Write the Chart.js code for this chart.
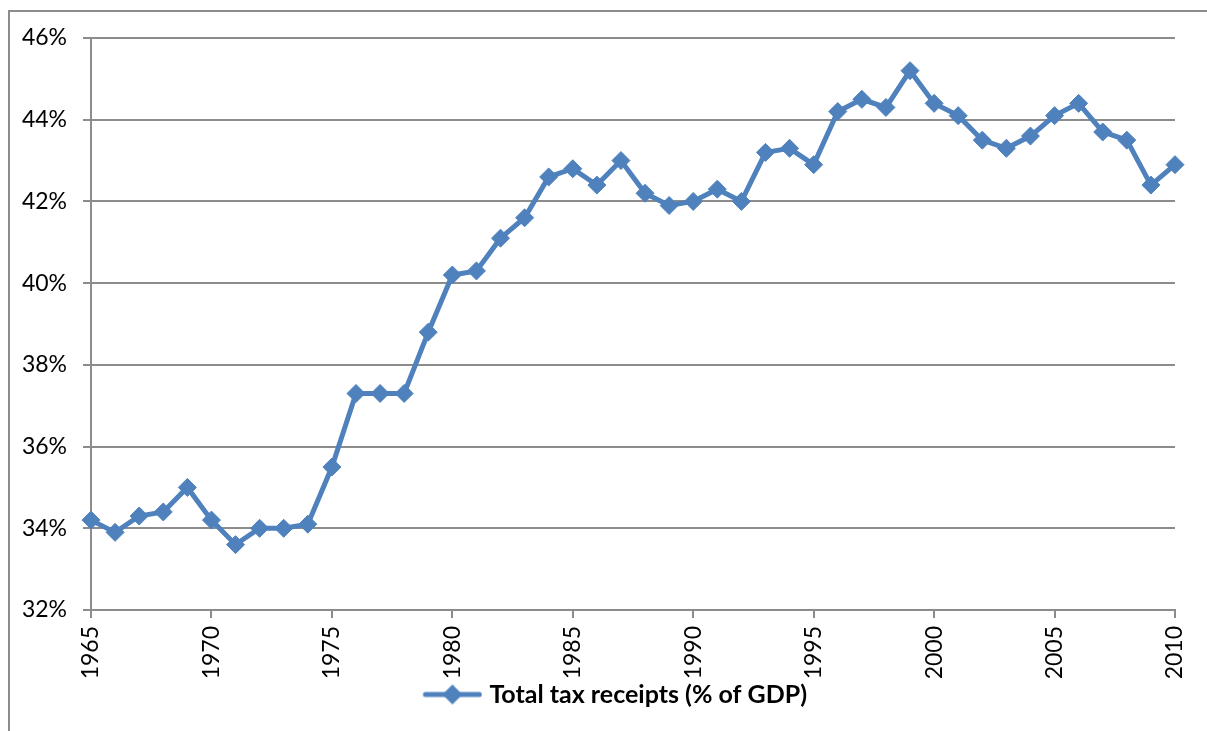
<!DOCTYPE html>
<html>
<head>
<meta charset="utf-8">
<script src="https://cdn.jsdelivr.net/npm/chart.js@4"></script>
<style>
  html, body { margin: 0; padding: 0; background: #fff; overflow: hidden; }
  #frame { position: absolute; left: 8px; top: 10px; width: 1400px; height: 1000px; border: 2px solid #8c8c8c; }
  #wrap { position: absolute; left: 0; top: 0; width: 1207px; height: 731px; }
</style>
</head>
<body>
<div id="frame"></div>
<div id="wrap"><canvas id="taxChart" width="1207" height="731"></canvas></div>
<script>
// Years on the x axis, one point per year
const years = [
  1965, 1966, 1967, 1968, 1969, 1970, 1971, 1972, 1973, 1974,
  1975, 1976, 1977, 1978, 1979, 1980, 1981, 1982, 1983, 1984,
  1985, 1986, 1987, 1988, 1989, 1990, 1991, 1992, 1993, 1994,
  1995, 1996, 1997, 1998, 1999, 2000, 2001, 2002, 2003, 2004,
  2005, 2006, 2007, 2008, 2009, 2010
];

// Total tax receipts, % of GDP
const taxReceipts = [
  34.2, 33.9, 34.3, 34.4, 35.0, 34.2, 33.6, 34.0, 34.0, 34.1,
  35.5, 37.3, 37.3, 37.3, 38.8, 40.2, 40.3, 41.1, 41.6, 42.6,
  42.8, 42.4, 43.0, 42.2, 41.9, 42.0, 42.3, 42.0, 43.2, 43.3,
  42.9, 44.2, 44.5, 44.3, 45.2, 44.4, 44.1, 43.5, 43.3, 43.6,
  44.1, 44.4, 43.7, 43.5, 42.4, 42.9
];

const seriesLabel = 'Total tax receipts (% of GDP)';
const yMin = 32;
const yMax = 46;
const yStep = 2;

const blue = '#4F81BD';
const gridGray = '#8c8c8c';
const fontFamily = 'Lato, "Open Sans", sans-serif';

// Line + diamond sample for the legend; the empty left part nudges
// the centred legend to the right, as in the original
function legendSample() {
  const c = document.createElement('canvas');
  c.width = 120;
  c.height = 22;
  const g = c.getContext('2d');
  g.strokeStyle = blue;
  g.lineWidth = 5;
  g.lineCap = 'round';
  g.beginPath();
  g.moveTo(63, 11);
  g.lineTo(117, 11);
  g.stroke();
  g.fillStyle = blue;
  g.beginPath();
  g.moveTo(90, 1);
  g.lineTo(100, 11);
  g.lineTo(90, 21);
  g.lineTo(80, 11);
  g.closePath();
  g.fill();
  return c;
}
const sample = legendSample();

new Chart(document.getElementById('taxChart'), {
  type: 'line',
  data: {
    labels: years,
    datasets: [{
      label: seriesLabel,
      data: taxReceipts,
      borderColor: blue,
      backgroundColor: blue,
      borderWidth: 5,
      pointStyle: 'rectRot',
      pointRadius: 9,
      pointHoverRadius: 9,
      pointBackgroundColor: blue,
      pointBorderColor: blue,
      pointBorderWidth: 1,
      tension: 0
    }]
  },
  options: {
    responsive: false,
    animation: false,
    events: [],
    layout: { padding: { left: 0, right: 32, top: 38, bottom: 14 } },
    scales: {
      x: {
        type: 'category',
        offset: false,
        border: { display: true, color: gridGray, width: 2 },
        grid: {
          drawOnChartArea: false,
          tickLength: 8,
          lineWidth: 2,
          color: ctx => (ctx.index % 5 === 0 ? gridGray : 'rgba(0,0,0,0)')
        },
        ticks: {
          autoSkip: false,
          minRotation: 90,
          maxRotation: 90,
          padding: 8,
          color: '#000',
          font: { family: fontFamily, size: 23 },
          callback: (val, i) => (i % 5 === 0 ? String(years[i]) : '')
        },
        afterFit: scale => {
          scale.height = 68;
          scale.paddingRight = 0;
          scale.paddingLeft = 0;
        }
      },
      y: {
        min: yMin,
        max: yMax,
        border: { display: true, color: gridGray, width: 2 },
        grid: { color: gridGray, lineWidth: 2, tickLength: 8 },
        ticks: {
          stepSize: yStep,
          padding: 16,
          color: '#000',
          font: { family: fontFamily, size: 23 },
          callback: v => v + '%'
        },
        afterFit: scale => { scale.width = 91; }
      }
    },
    plugins: {
      tooltip: { enabled: false },
      legend: {
        position: 'bottom',
        labels: {
          usePointStyle: true,
          pointStyle: sample,
          pointStyleWidth: 109,
          color: '#000',
          padding: 4,
          font: { family: fontFamily, size: 25, weight: 'bold' }
        }
      }
    }
  }
});
</script>
</body>
</html>
